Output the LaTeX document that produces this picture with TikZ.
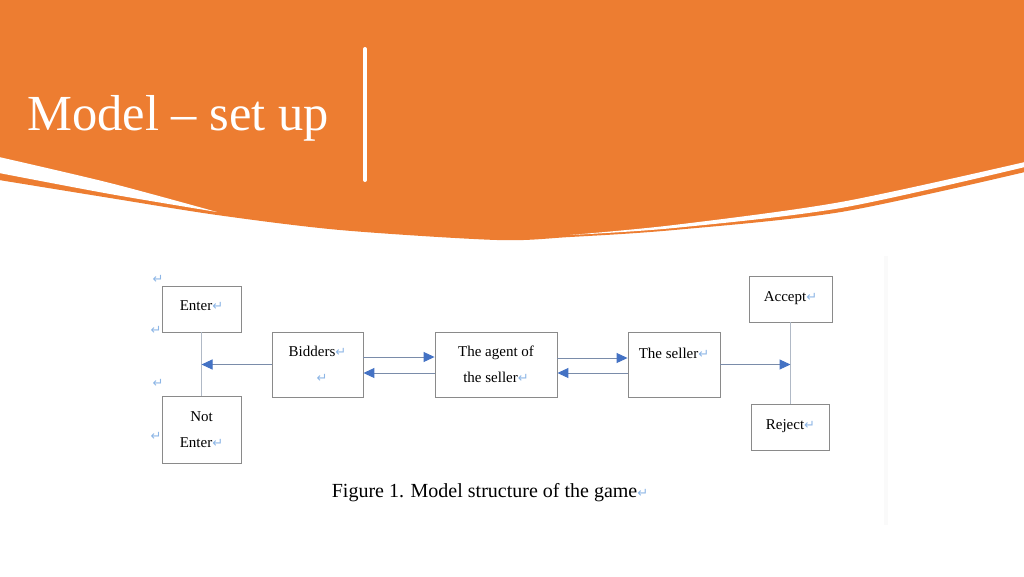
\documentclass[tikz,border=0pt]{standalone}
\usepackage{fontspec}
\setmainfont{Liberation Serif}
\newfontfamily\pmfont{DejaVu Sans}
\usetikzlibrary{arrows.meta}
\definecolor{orng}{HTML}{ED7D31}
\definecolor{arrowblue}{HTML}{4472C4}
\definecolor{connline}{HTML}{7A8CAA}
\definecolor{vertline}{HTML}{B0B9C6}
\definecolor{boxline}{HTML}{8A8A8A}
\definecolor{retblue}{HTML}{8DB6E6}
\newcommand\retmark{{\color{retblue}\pmfont\fontsize{13}{13}\selectfont ↵}}
\begin{document}
\begin{tikzpicture}[x=1pt,y=-1pt,
  box/.style={draw=boxline,line width=0.9pt,fill=white,inner sep=0pt,font=\fontsize{15}{26}\selectfont,align=center},
  conn/.style={draw=connline,line width=1pt},
  vconn/.style={draw=vertline,line width=1pt},
  tip/.style={-{Triangle[length=11pt,width=10pt,fill=arrowblue,color=arrowblue]}},
  stray/.style={inner sep=0pt}
]
\useasboundingbox (0,0) rectangle (1024,576);
\fill[white] (0,0) rectangle (1024,576);
% header
\fill[orng] plot[smooth] coordinates {(1025,172) (841,212) (674,230) (570,237) (497,240) (340,230) (217,215) (110,198) (-1,180)} -- (-1,-1) -- (1025,-1) -- cycle;
\fill[white] plot[smooth] coordinates {(-1,157) (110,183) (217,212)} -- plot[smooth] coordinates {(217,212) (110,194) (-1,173)} -- cycle;
\fill[white] plot[smooth] coordinates {(570,235) (674,225) (841,202) (1025,162)} -- plot[smooth] coordinates {(1025,167) (841,208) (674,228) (570,235)} -- cycle;
\node[anchor=base west,text=white,font=\fontsize{50.5}{60}\selectfont,inner sep=0pt] (title) at (27,130) {Model – set up};
\draw[white,line width=4pt,line cap=round] (365,49) -- (365,180);
% faint panel edge
\fill[black!2] (884,256) rectangle (888,525);
% boxes
\node[box,minimum width=79pt,minimum height=46pt,text height=12pt,text depth=10pt] (enter) at (201.5,309) {Enter\retmark};
\node[box,minimum width=79pt,minimum height=67pt] (notenter) at (201.5,429.5) {Not\\Enter\retmark};
\node[box,minimum width=91pt,minimum height=65pt] (bidders) at (317.5,364.5) {Bidders\retmark\\\hspace*{9pt}\retmark};
\node[box,minimum width=122pt,minimum height=65pt] (agent) at (496,364.5) {The agent of\\the seller\retmark};
\node[box,minimum width=92pt,minimum height=65pt,text height=10pt,text depth=23pt] (seller) at (674,364.5) {The seller\retmark};
\node[box,minimum width=83pt,minimum height=46pt,text height=12pt,text depth=8pt] (accept) at (790.5,299) {Accept\retmark};
\node[box,minimum width=78pt,minimum height=46pt,text height=12pt,text depth=8pt] (reject) at (790.5,427) {Reject\retmark};
% stray paragraph marks
\node[stray] (pm1) at (158,279) {\retmark};
\node[stray] (pm2) at (156,330) {\retmark};
\node[stray] (pm3) at (158,383) {\retmark};
\node[stray] (pm4) at (156,436) {\retmark};
% junctions
\coordinate (jl) at (enter.south |- bidders.west);
\coordinate (jr) at (accept.south |- seller.east);
% connectors
\draw[vconn] (enter.south) -- (notenter.north);
\draw[vconn] (accept.south) -- (reject.north);
\draw[conn,tip] (bidders.west) -- (jl);
\draw[conn,tip] ([yshift=7.5pt]bidders.east) -- ([yshift=7.5pt]agent.west);
\draw[conn,tip] ([yshift=-8.5pt]agent.west) -- ([yshift=-8.5pt]bidders.east);
\draw[conn,tip] ([yshift=6.5pt]agent.east) -- ([yshift=6.5pt]seller.west);
\draw[conn,tip] ([yshift=-8.5pt]seller.west) -- ([yshift=-8.5pt]agent.east);
\draw[conn,tip] (seller.east) -- (jr);
% caption
\node[font=\fontsize{20}{24}\selectfont,anchor=base,inner sep=0pt] (cap) at (490,497) {Figure 1. Model structure of the game\retmark};
\end{tikzpicture}
\end{document}
